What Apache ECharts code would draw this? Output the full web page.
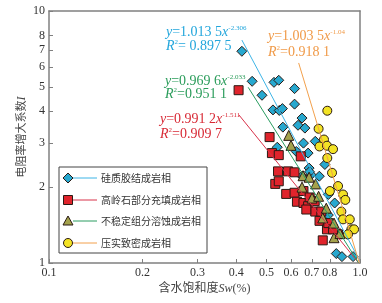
<!DOCTYPE html>
<html>
<head>
<meta charset="utf-8">
<script src="https://cdn.jsdelivr.net/npm/echarts@6/dist/echarts.min.js"></script>
<style>html,body{margin:0;padding:0;background:#fff}#c{width:382px;height:303px}</style>
</head>
<body>
<div id="c"></div>
<script>
const xTicks = [0.1,0.2,0.3,0.4,0.5,0.6,0.7,0.8,0.9,1.0];
const yTicks = [1,2,3,4,5,6,7,8,9,10];
const seriesNames = ['硅质胶结成岩相','高岭石部分充填成岩相','不稳定组分溶蚀成岩相','压实致密成岩相'];
const siliceous = [[0.417,6.92],[0.450,5.26],[0.484,4.63],[0.529,5.21],[0.548,5.31],[0.616,4.92],[0.616,4.27],[0.525,4.05],[0.550,4.03],[0.563,4.10],[0.651,3.76],[0.565,3.46],[0.632,3.52],[0.665,3.43],[0.718,3.04],[0.658,2.99],[0.542,2.88],[0.624,2.77],[0.681,2.73],[0.771,2.46],[0.686,2.38],[0.651,2.21],[0.696,2.24],[0.829,1.73],[0.791,1.87],[0.791,1.55],[0.910,1.30],[0.839,1.09],[0.875,1.06],[0.950,1.06],[0.740,2.21],[0.688,2.30]];
const kaolinite = [[0.407,4.85],[0.512,3.16],[0.521,2.73],[0.548,2.68],[0.645,2.65],[0.545,2.31],[0.587,2.31],[0.616,2.29],[0.534,2.06],[0.548,2.11],[0.579,1.88],[0.616,1.90],[0.658,1.93],[0.627,1.75],[0.658,1.73],[0.689,1.82],[0.681,1.68],[0.718,1.60],[0.672,1.63],[0.741,1.47],[0.783,1.36],[0.791,1.44],[0.759,1.23],[0.850,1.30],[0.819,1.36],[0.715,1.76],[0.751,1.60]];
const dissolution = [[0.590,3.21],[0.600,2.93],[0.656,2.22],[0.720,2.06],[0.651,2.00],[0.701,1.81],[0.736,1.84],[0.779,1.65],[0.759,1.51],[0.825,1.44],[0.825,1.26],[0.862,1.31],[0.686,2.19]];
const compaction = [[0.785,4.02],[0.736,3.41],[0.766,3.09],[0.741,2.90],[0.783,2.92],[0.819,2.83],[0.785,2.61],[0.813,2.28],[0.850,2.02],[0.800,1.93],[0.882,1.87],[0.897,1.78],[0.871,1.60],[0.882,1.49],[0.927,1.49],[0.938,1.36],[0.957,1.36],[0.915,1.30]];
const fitSiliceous = [[0.417,7.67],[0.99,1.04]];
const fitKaolinite = [[0.408,3.87],[0.99,1.0]];
const fitDissolution = [[0.437,4.98],[0.99,1.0]];
const fitCompaction = [[0.635,6.22],[0.995,1.0]];
const equations = [
  {a:'1.013 5', b:'-2.306', r2:'0.897 5', sep:'= '},
  {a:'0.991 2', b:'-1.511', r2:'0.909 7', sep:'='},
  {a:'0.969 6', b:'-2.033', r2:'0.951 1', sep:'='},
  {a:'1.003 5', b:'-1.04', r2:'0.918 1', sep:'='}
];

const colors = {
  fill: ['#27a8cf','#e0242c','#a4a24c','#f3e324'],
  line: ['#3db4e6','#d8324a','#2a9c60','#f2a04c'],
  text: ['#22a6dc','#d82a36','#2a9c5a','#f09a48']
};
const symbols = ['diamond','rect','triangle','circle'];
const sizes = [10,9,10,9];
const scatterData = [siliceous,kaolinite,dissolution,compaction];
const fitData = [fitSiliceous,fitKaolinite,fitDissolution,fitCompaction];

const serif = '"Liberation Serif","Times New Roman",serif';
const cjk = '"Liberation Serif","Noto Sans CJK SC",serif';
const inRange = (v, hi) => Math.min(v, hi * 0.99999);

const series = [];
scatterData.forEach((d,i)=>{
  series.push({type:'scatter', name:seriesNames[i], data:d, symbol:symbols[i], symbolSize:sizes[i],
    itemStyle:{color:colors.fill[i], borderColor:'#2a1a14', borderWidth:1, opacity:1}, z:2});
});
fitData.forEach((d,i)=>{
  series.push({type:'line', data:d, showSymbol:false, symbol:'none', lineStyle:{color:colors.line[i], width:1}, z:3, silent:true});
});

function eqText(i, x, y1, y2){
  const e = equations[i], c = colors.text[i];
  const rich = {
    i:{fontFamily:serif, fontStyle:'italic', fontSize:14, fill:c, verticalAlign:'bottom', lineHeight:15},
    n:{fontFamily:serif, fontSize:14, fill:c, verticalAlign:'bottom', lineHeight:15},
    s:{fontFamily:serif, fontSize:7, fill:c, verticalAlign:'top', lineHeight:15}
  };
  return [
    {type:'text', x:x, y:y1, z:10, style:{text:'{i|y}{n|='+e.a+'}{i|x}{s|'+e.b+'}', rich:rich, verticalAlign:'middle', align:'left'}},
    {type:'text', x:x, y:y2, z:10, style:{text:'{i|R}{s|2}{n|'+e.sep+e.r2+'}', rich:rich, verticalAlign:'middle', align:'left'}}
  ];
}

const graphics = [];
graphics.push(...eqText(0,166,32,46));
graphics.push(...eqText(2,165,81,94));
graphics.push(...eqText(1,160,119,134));
graphics.push(...eqText(3,268,36,52));

// legend
const lg = {x:59, y:167, w:148, h:86};
graphics.push({type:'rect', shape:{x:lg.x, y:lg.y, width:lg.w, height:lg.h}, style:{fill:'#fff', stroke:'#444', lineWidth:1}, z:20});
const rows = [178,200,221,243];
rows.forEach((ry,i)=>{
  graphics.push({type:'line', shape:{x1:73, y1:ry, x2:97, y2:ry}, style:{stroke:colors.line[i], lineWidth:1}, z:21});
  let m;
  const st = {fill:colors.fill[i], stroke:'#2a1a14', lineWidth:1};
  if (i===0) m = {type:'polygon', shape:{points:[[68,ry-5],[73,ry],[68,ry+5],[63,ry]]}, style:st};
  else if (i===1) m = {type:'rect', shape:{x:63.5, y:ry-4.5, width:9, height:9}, style:st};
  else if (i===2) m = {type:'polygon', shape:{points:[[68,ry-5],[73,ry+4],[63,ry+4]]}, style:st};
  else m = {type:'circle', shape:{cx:68, cy:ry, r:4.5}, style:st};
  m.z = 22;
  graphics.push(m);
  graphics.push({type:'text', x:101, y:ry, z:22, style:{text:seriesNames[i], fontFamily:'"Noto Sans CJK SC",sans-serif', fontSize:10, fill:'#333', verticalAlign:'middle', align:'left'}});
});

const frameLine = {show:true, onZero:false, lineStyle:{color:'#808080', width:1.5}};
const chart = echarts.init(document.getElementById('c'), null, {renderer:'canvas'});
chart.setOption({
  animation:false,
  grid:{left:49, top:11, right:22, bottom:40, show:false, outerBoundsMode:'none'},
  xAxis:[{type:'log', logBase:10, min:0.1, max:1,
    name:'含水饱和度{i|Sw}(%)', nameLocation:'middle', nameGap:20, nameMoveOverlap:false,
    nameTextStyle:{fontFamily:cjk, fontSize:12, color:'#444', rich:{i:{fontFamily:serif, fontStyle:'italic', fontSize:12, color:'#444'}}},
    axisLine:frameLine,
    axisTick:{inside:true, length:4, customValues:xTicks.map(v=>inRange(v,1)), lineStyle:{color:'#808080'}},
    axisLabel:{customValues:xTicks.map(v=>inRange(v,1)), showMinLabel:true, showMaxLabel:true, hideOverlap:false, fontFamily:serif, fontSize:12, color:'#333', margin:4, formatter:v=>Number(v).toFixed(1)},
    minorTick:{show:false}, splitLine:{show:false}},
   {type:'log', logBase:10, min:0.1, max:1, position:'top', axisLine:frameLine, axisTick:{show:false}, axisLabel:{show:false}, splitLine:{show:false}}],
  yAxis:[{type:'log', logBase:10, min:1, max:10,
    name:'电阻率增大系数{i|I}', nameLocation:'middle', nameGap:21, nameRotate:90, nameMoveOverlap:false,
    nameTextStyle:{fontFamily:cjk, fontSize:11, color:'#444', rich:{i:{fontFamily:serif, fontStyle:'italic', fontSize:12, color:'#444'}}},
    axisLine:frameLine,
    axisTick:{inside:true, length:4, customValues:yTicks.map(v=>inRange(v,10)), lineStyle:{color:'#808080'}},
    axisLabel:{customValues:yTicks.map(v=>inRange(v,10)), showMinLabel:true, showMaxLabel:true, hideOverlap:false, fontFamily:serif, fontSize:12, color:'#333', margin:4, formatter:v=>String(Math.round(v))},
    splitLine:{show:false}},
   {type:'log', logBase:10, min:1, max:10, position:'right', axisLine:frameLine, axisTick:{show:false}, axisLabel:{show:false}, splitLine:{show:false}}],
  series:series,
  graphic:graphics
});
</script>
</body>
</html>
